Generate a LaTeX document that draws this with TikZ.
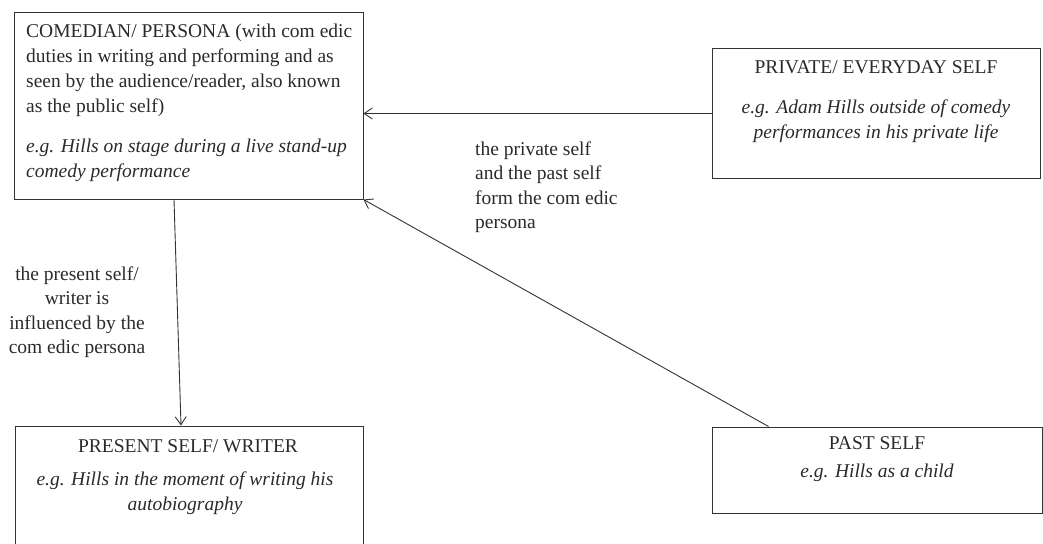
\documentclass[tikz,border=0pt]{standalone}
\usepackage{fontspec}
\setmainfont{Liberation Serif}
\usetikzlibrary{arrows.meta}
\definecolor{inkgray}{HTML}{2A2A2A}
\definecolor{linegray}{HTML}{333333}
\newcommand{\bodyfont}{\fontsize{19.5}{24.8}\selectfont}
\begin{document}
\begin{tikzpicture}[x=1pt,y=-1pt,
  box/.style 2 args={draw=linegray, line width=1pt, minimum width=#1pt,
    minimum height=#2pt, inner sep=0pt},
  txt/.style={inner sep=0pt, text=inkgray, font=\bodyfont},
  ex/.style={txt, font=\bodyfont\itshape},
  conn/.style={draw=linegray, line width=0.9pt,
    -{Straight Barb[length=8pt,width=11pt]}}]
\useasboundingbox (0,0) rectangle (1043,543);

% boxes
\node[box={349}{186}] (persona) at (188.5,106) {};
\node[box={328}{129}] (private) at (876,113.5) {};
\node[box={348}{128}] (present) at (189,490) {};
\node[box={330}{86}]  (past)    at (877,470) {};

% box contents (multi-line nodes are placed by the baseline of their last line)
\node[txt, anchor=base west, align=left] (personaT) at (26,112)
  {COMEDIAN/ PERSONA (with com edic\\
   duties in writing and performing and as\\
   seen by the audience/reader, also known\\
   as the public self)};
\node[ex, anchor=base west, align=left] (personaE) at (26,177)
  {e.g. Hills on stage during a live stand-up\\comedy performance};

\node[txt, anchor=base, align=center] (privateT) at (876,74)
  {PRIVATE/ EVERYDAY SELF};
\node[ex, anchor=base, align=center] (privateE) at (876,138)
  {e.g. Adam Hills outside of comedy\\performances in his private life};

\node[txt, anchor=base, align=center] (presentT) at (188,452)
  {PRESENT SELF/ WRITER};
\node[ex, anchor=base, align=center] (presentE) at (185,510)
  {e.g. Hills in the moment of writing his\\autobiography};

\node[txt, anchor=base, align=center] (pastT) at (877,449) {PAST SELF};
\node[ex, anchor=base, align=center] (pastE) at (877,477)
  {e.g. Hills as a child};

% connector labels
\node[txt, anchor=base, align=center, font=\fontsize{19.5}{24.5}\selectfont]
  (lblPresent) at (77,353.5)
  {the present self/\\writer is\\influenced by the\\com edic persona};
\node[txt, anchor=base west, align=left, font=\fontsize{19.5}{24.5}\selectfont]
  (lblForm) at (475,228.5)
  {the private self\\and the past self\\form the com edic\\persona};

% connectors
\draw[conn] (private.west) -- (persona.east |- private.west);
\draw[conn] ([xshift=57pt]past.north west) -- (persona.south east);
\draw[conn] ([xshift=-14.5pt]persona.south) -- ([xshift=-8pt]present.north);
\end{tikzpicture}
\end{document}
